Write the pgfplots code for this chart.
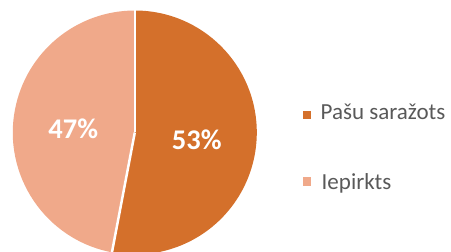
\documentclass[border=0pt]{standalone}
\usepackage{pgfplots}
\pgfplotsset{compat=1.18}
\usepackage{pgfplotstable}
\usepackage{fontspec}
\setmainfont{Carlito}
\definecolor{dark}{HTML}{D4702B}
\definecolor{light}{HTML}{F0A98A}
\definecolor{txt}{HTML}{595959}
\pgfplotstableread{
label value
Pasu 53
Iepirkts 47
}\piedata
\begin{document}
\begin{tikzpicture}
\pgfplotstablegetelem{0}{value}\of\piedata \let\va\pgfplotsretval
\pgfplotstablegetelem{1}{value}\of\piedata \let\vb\pgfplotsretval
\pgfmathsetmacro\angA{90-3.6*\va}
\pgfmathsetmacro\angB{\angA-3.6*\vb}
\clip (0,0) rectangle (451pt,252pt);
\begin{axis}[at={(0,0)}, anchor=south west, scale only axis, width=451pt, height=252pt,
  xmin=0,xmax=451,ymin=0,ymax=252, hide axis, clip=false]
\addplot[draw=none] coordinates {(0,0) (451,252)};
\coordinate (C) at (axis cs:134.8,119.5);
\fill[dark] (C) -- ++(90:122pt) arc[start angle=90, end angle=\angA, radius=122pt] -- cycle;
\fill[light] (C) -- ++(\angA:122pt) arc[start angle=\angA, end angle=\angB, radius=122pt] -- cycle;
\draw[white, line width=2.5pt] (C) -- ++(90:123pt);
\draw[white, line width=2.5pt] (C) -- ++(\angA:123pt);
\node[white, font=\bfseries\fontsize{28.5}{28.5}\selectfont] at (axis cs:196.7,112) {\va\%};
\node[white, font=\bfseries\fontsize{28.5}{28.5}\selectfont] at (axis cs:73.3,123.3) {\vb\%};
\fill[dark] (axis cs:302.5,133) rectangle (axis cs:311,141.3);
\node[anchor=base west, inner sep=0, text=txt, font=\fontsize{23}{23}\selectfont] at (axis cs:320.5,132) {Pašu saražots};
\fill[light] (axis cs:302.5,66) rectangle (axis cs:311,75);
\node[anchor=base west, inner sep=0, text=txt, font=\fontsize{23}{23}\selectfont] at (axis cs:321.5,62) {Iepirkts};
\end{axis}
\end{tikzpicture}
\end{document}
